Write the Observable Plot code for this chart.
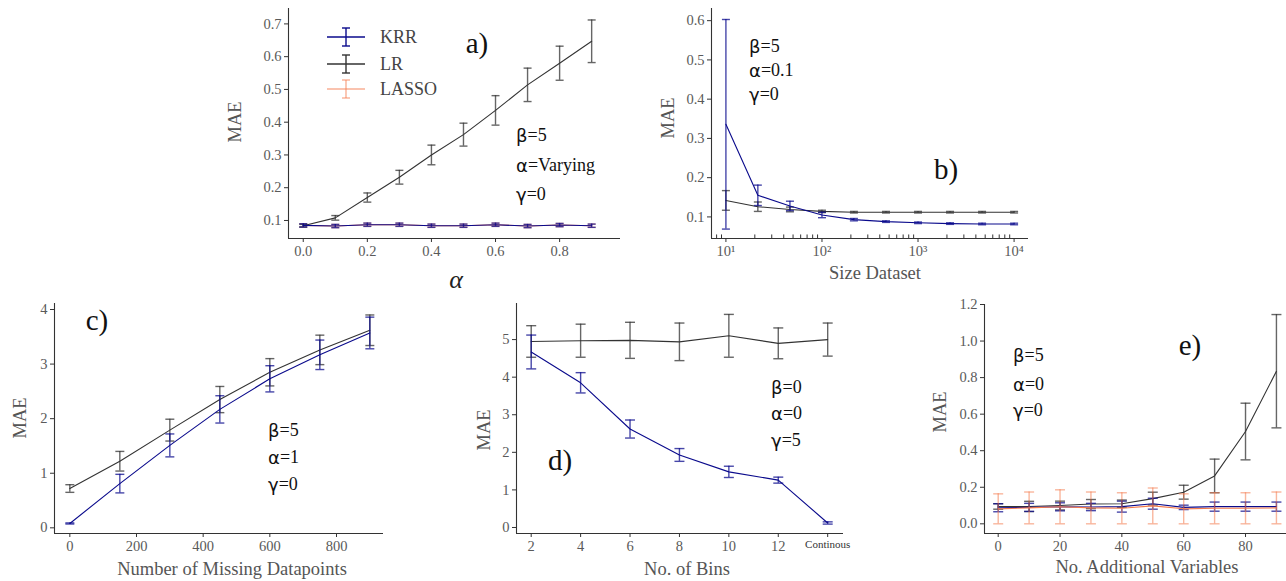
<!DOCTYPE html>
<html><head><meta charset="utf-8">
<script src="https://cdn.jsdelivr.net/npm/d3@7"></script>
<script src="https://cdn.jsdelivr.net/npm/@observablehq/plot@0.6"></script>
<style>
html,body{margin:0;padding:0;background:#fff;overflow:hidden;}
#fig{position:relative;width:1286px;height:581px;overflow:hidden;background:#fff;}
#fig svg{position:absolute;overflow:visible;}
</style></head><body><div id="fig"></div>
<script>
// ---------- Panel a: MAE vs alpha ----------
const aAlpha   = [0, 0.1, 0.2, 0.3, 0.4, 0.5, 0.6, 0.7, 0.8, 0.9];
const aKRR     = [0.085, 0.083, 0.087, 0.087, 0.084, 0.084, 0.087, 0.083, 0.086, 0.084];
const aKRRsd   = [0.005, 0.005, 0.005, 0.005, 0.005, 0.005, 0.005, 0.005, 0.005, 0.005];
const aLR      = [0.084, 0.108, 0.170, 0.232, 0.300, 0.362, 0.436, 0.514, 0.580, 0.647];
const aLRsd    = [0.004, 0.007, 0.014, 0.021, 0.030, 0.035, 0.045, 0.051, 0.052, 0.065];
const aLASSO   = [0.085, 0.083, 0.087, 0.087, 0.084, 0.084, 0.087, 0.083, 0.086, 0.084];
const aLASSOsd = [0.005, 0.005, 0.005, 0.005, 0.005, 0.005, 0.005, 0.005, 0.005, 0.005];
const aXTicks  = [0, 0.2, 0.4, 0.6, 0.8];
const aYTicks  = [0.1, 0.2, 0.3, 0.4, 0.5, 0.6, 0.7];

// ---------- Panel b: MAE vs dataset size ----------
const bSize    = [10, 21.5, 46.4, 100, 215, 464, 1000, 2154, 4642, 10000];
const bKRR     = [0.336, 0.155, 0.128, 0.105, 0.093, 0.088, 0.085, 0.083, 0.082, 0.082];
const bKRRsd   = [0.267, 0.026, 0.012, 0.007, 0.003, 0.002, 0.002, 0.002, 0.002, 0.002];
const bLR      = [0.142, 0.126, 0.119, 0.114, 0.112, 0.112, 0.112, 0.112, 0.112, 0.112];
const bLRsd    = [0.025, 0.012, 0.006, 0.003, 0.002, 0.002, 0.002, 0.002, 0.002, 0.002];
const bXTicks  = [10, 100, 1000, 10000];
const bXMinor  = [8, 9, 20, 30, 40, 50, 60, 70, 80, 90, 200, 300, 400, 500, 600, 700, 800, 900,
                  2000, 3000, 4000, 5000, 6000, 7000, 8000, 9000];
const bYTicks  = [0.1, 0.2, 0.3, 0.4, 0.5, 0.6];

// ---------- Panel c: MAE vs missing datapoints ----------
const cMissing = [0, 150, 300, 450, 600, 750, 900];
const cKRR     = [0.08, 0.81, 1.51, 2.17, 2.73, 3.17, 3.57];
const cKRRsd   = [0.01, 0.17, 0.21, 0.25, 0.24, 0.27, 0.29];
const cLR      = [0.72, 1.22, 1.79, 2.35, 2.85, 3.26, 3.62];
const cLRsd    = [0.07, 0.18, 0.20, 0.24, 0.25, 0.27, 0.28];
const cXTicks  = [0, 200, 400, 600, 800];
const cYTicks  = [0, 1, 2, 3, 4];

// ---------- Panel d: MAE vs number of bins ----------
const dBins    = [2, 4, 6, 8, 10, 12, 14];
const dKRR     = [4.67, 3.85, 2.62, 1.93, 1.48, 1.26, 0.12];
const dKRRsd   = [0.45, 0.27, 0.24, 0.17, 0.15, 0.08, 0.03];
const dLR      = [4.95, 4.97, 4.98, 4.94, 5.10, 4.90, 5.00];
const dLRsd    = [0.42, 0.44, 0.48, 0.50, 0.57, 0.41, 0.44];
const dXTicks  = [2, 4, 6, 8, 10, 12];
const dXCont   = [14];
const dContLabel = "Continous";
const dYTicks  = [0, 1, 2, 3, 4, 5];

// ---------- Panel e: MAE vs additional variables ----------
const eVars    = [0, 10, 20, 30, 40, 50, 60, 70, 80, 90];
const eKRR     = [0.088, 0.090, 0.093, 0.092, 0.094, 0.110, 0.090, 0.094, 0.094, 0.094];
const eKRRsd   = [0.022, 0.022, 0.022, 0.020, 0.030, 0.030, 0.012, 0.025, 0.025, 0.025];
const eLR      = [0.095, 0.095, 0.100, 0.108, 0.110, 0.138, 0.173, 0.262, 0.505, 0.835];
const eLRsd    = [0.015, 0.028, 0.024, 0.025, 0.020, 0.035, 0.038, 0.092, 0.155, 0.310];
const eLASSO   = [0.082, 0.087, 0.093, 0.087, 0.085, 0.098, 0.082, 0.085, 0.085, 0.087];
const eLASSOsd = [0.082, 0.087, 0.093, 0.087, 0.085, 0.098, 0.082, 0.085, 0.085, 0.087];
const eXTicks  = [0, 20, 40, 60, 80];
const eYTicks  = [0, 0.2, 0.4, 0.6, 0.8, 1.0, 1.2];

const seriesNames = ["KRR", "LR", "LASSO"];
const COL = {KRR: "#0a0a8c", LR: "#333333", LASSO: "#f47a4c"};

// ---------- helpers ----------
const SERIF = "'Liberation Serif', 'DejaVu Serif', serif";
const SANS = "'DejaVu Sans', sans-serif";
const fig = document.getElementById("fig");

const capSymbol = {draw(ctx, size) { const w = Math.sqrt(size / Math.PI); ctx.moveTo(-w, 0); ctx.lineTo(w, 0); }};

function rows(xs, mean, sd) {
  return xs.map((x, i) => ({x, y: mean[i], lo: mean[i] - sd[i], hi: mean[i] + sd[i]}));
}

function seriesMarks(data, name, capR) {
  const color = COL[name];
  const eo = name === "LASSO" ? 0.55 : 0.75;
  return [
    Plot.ruleX(data, {x: "x", y1: "lo", y2: "hi", stroke: color, strokeWidth: 1.4, strokeOpacity: eo}),
    Plot.dot(data, {x: "x", y: "lo", symbol: capSymbol, r: capR, stroke: color, fill: "none", strokeWidth: 1.4, strokeOpacity: eo}),
    Plot.dot(data, {x: "x", y: "hi", symbol: capSymbol, r: capR, stroke: color, fill: "none", strokeWidth: 1.4, strokeOpacity: eo}),
    Plot.line(data, {x: "x", y: "y", stroke: color, strokeWidth: 1.1})
  ];
}

function panel(cfg) {
  const marks = [
    ...(cfg.extra || []),
    Plot.ruleX([cfg.xDomain[0]], {stroke: "#333", strokeWidth: 1.1}),
    Plot.ruleY([cfg.yDomain[0]], {stroke: "#333", strokeWidth: 1.1}),
    ...cfg.xAxes,
    Plot.axisY({ticks: cfg.yTicks, tickFormat: cfg.yFormat, tickSize: 4, tickPadding: 3, stroke: "#333", fill: "#5a5a5a", label: null}),
    ...cfg.series
  ];
  const svg = Plot.plot({
    width: cfg.width, height: cfg.height,
    marginLeft: cfg.mL, marginRight: cfg.mR, marginTop: cfg.mT, marginBottom: cfg.mB,
    x: {type: cfg.xType || "linear", domain: cfg.xDomain, axis: null, label: null},
    y: {domain: cfg.yDomain, axis: null, label: null},
    style: {fontFamily: SERIF, fontSize: "14.5px", color: "#5a5a5a", background: "none", overflow: "visible"},
    marks
  });
  svg.style.left = cfg.left + "px";
  svg.style.top = cfg.top + "px";
  fig.appendChild(svg);
  const g = d3.select(svg).append("g");
  // text helper: absolute page coordinates
  const T = (px, py, parts, o = {}) => {
    const t = g.append("text")
      .attr("x", px - cfg.left).attr("y", py - cfg.top)
      .attr("text-anchor", o.anchor || "start")
      .attr("dominant-baseline", "central")
      .attr("font-size", o.size || 18)
      .attr("fill", o.fill || "#111")
      .attr("font-family", SERIF);
    if (o.rotate) t.attr("transform", `rotate(${o.rotate},${px - cfg.left},${py - cfg.top})`);
    if (o.italic) t.attr("font-style", "italic");
    for (const [s, fam] of parts) t.append("tspan").attr("font-family", fam || SERIF).text(s);
    return t;
  };
  return {svg, g, T};
}

function xAxis(ticks, fmt, extra = {}) {
  return Plot.axisX({ticks, tickFormat: fmt, tickSize: 4, tickPadding: 3, stroke: "#333", fill: "#5a5a5a", label: null, ...extra});
}
const f1 = d3.format(".1f");
const fInt = d => String(d);
const sup = {1: "\u00b9", 2: "\u00b2", 3: "\u00b3", 4: "\u2074"};

function params(T, x, ys, labels) {
  labels.forEach(([g, v], i) => T(x, ys[i], [[g, SANS], ["=" + v, SERIF]], {size: 18}));
}

// ---------- Panel a ----------
{
  const {g, T} = panel({
    left: 220, top: 0, width: 410, height: 290, mL: 68, mR: 10, mT: 8, mB: 52,
    xDomain: [-0.046, 0.99], yDomain: [0.045, 0.747],
    xAxes: [xAxis(aXTicks, f1)], yTicks: aYTicks, yFormat: f1,
    series: [
      ...seriesMarks(rows(aAlpha, aLASSO, aLASSOsd), "LASSO", 4),
      ...seriesMarks(rows(aAlpha, aLR, aLRsd), "LR", 4),
      ...seriesMarks(rows(aAlpha, aKRR, aKRRsd), "KRR", 4)
    ]
  });
  T(235, 122, [["MAE"]], {rotate: -90, anchor: "middle", size: 18.5, fill: "#555"});
  T(456, 279, [["\u03b1"]], {anchor: "middle", size: 26, italic: true, fill: "#222"});
  T(477, 43, [["a)"]], {anchor: "middle", size: 29});
  params(T, 516, [135, 165, 194], [["\u03b2", "5"], ["\u03b1", "Varying"], ["\u03b3", "0"]]);
  // legend
  const ly = [37, 64, 89];
  seriesNames.forEach((n, i) => {
    const y = ly[i], op = n === "LASSO" ? 0.6 : 1;
    g.append("line").attr("x1", 327 - 220).attr("x2", 365 - 220).attr("y1", y).attr("y2", y)
      .attr("stroke", COL[n]).attr("stroke-width", 1.3).attr("stroke-opacity", op);
    g.append("line").attr("x1", 346 - 220).attr("x2", 346 - 220).attr("y1", y - 9).attr("y2", y + 9)
      .attr("stroke", COL[n]).attr("stroke-width", 1.4).attr("stroke-opacity", op);
    [y - 9, y + 9].forEach(cy => g.append("line").attr("x1", 342 - 220).attr("x2", 350 - 220).attr("y1", cy).attr("y2", cy)
      .attr("stroke", COL[n]).attr("stroke-width", 1.4).attr("stroke-opacity", op));
    T(380, y, [[n]], {size: 18, fill: "#444"});
  });
}

// ---------- Panel b ----------
{
  const yD = [0.045, 0.631];
  const {T} = panel({
    left: 650, top: 0, width: 390, height: 290, mL: 61, mR: 12, mT: 8, mB: 52,
    xType: "log", xDomain: [Math.pow(10, 0.85), Math.pow(10, 4.15)], yDomain: yD,
    extra: [Plot.ruleX(bXMinor, {x: d => d, y1: yD[0], y2: yD[0] + 0.009, stroke: "#333", strokeWidth: 1})],
    xAxes: [xAxis(bXTicks, d => "10" + sup[Math.round(Math.log10(d))])], yTicks: bYTicks, yFormat: f1,
    series: [
      ...seriesMarks(rows(bSize, bLR, bLRsd), "LR", 4),
      ...seriesMarks(rows(bSize, bKRR, bKRRsd), "KRR", 4)
    ]
  });
  T(668, 118, [["MAE"]], {rotate: -90, anchor: "middle", size: 18.5, fill: "#555"});
  T(875, 273, [["Size Dataset"]], {anchor: "middle", size: 18.5, fill: "#555"});
  T(946, 169, [["b)"]], {anchor: "middle", size: 29});
  params(T, 749, [46, 70, 94], [["\u03b2", "5"], ["\u03b1", "0.1"], ["\u03b3", "0"]]);
}

// ---------- Panel c ----------
{
  const {T} = panel({
    left: 0, top: 290, width: 400, height: 291, mL: 54, mR: 17, mT: 13, mB: 48,
    xDomain: [-46, 941], yDomain: [-0.104, 4.11],
    xAxes: [xAxis(cXTicks, fInt)], yTicks: cYTicks, yFormat: fInt,
    series: [
      ...seriesMarks(rows(cMissing, cLR, cLRsd), "LR", 4.5),
      ...seriesMarks(rows(cMissing, cKRR, cKRRsd), "KRR", 4.5)
    ]
  });
  T(20, 418, [["MAE"]], {rotate: -90, anchor: "middle", size: 18.5, fill: "#555"});
  T(232, 569, [["Number of Missing Datapoints"]], {anchor: "middle", size: 18.5, fill: "#555"});
  T(97, 320, [["c)"]], {anchor: "middle", size: 29});
  params(T, 268, [430, 457, 484], [["\u03b2", "5"], ["\u03b1", "1"], ["\u03b3", "0"]]);
}

// ---------- Panel d ----------
{
  const {T} = panel({
    left: 430, top: 290, width: 430, height: 291, mL: 86, mR: 17, mT: 13, mB: 48,
    xDomain: [1.405, 14.64], yDomain: [-0.16, 5.96],
    xAxes: [xAxis(dXTicks, fInt), xAxis(dXCont, () => dContLabel, {fontSize: 11, fill: "#333"})],
    yTicks: dYTicks, yFormat: fInt,
    series: [
      ...seriesMarks(rows(dBins, dLR, dLRsd), "LR", 5),
      ...seriesMarks(rows(dBins, dKRR, dKRRsd), "KRR", 5)
    ]
  });
  T(484, 430, [["MAE"]], {rotate: -90, anchor: "middle", size: 18.5, fill: "#555"});
  T(687, 569, [["No. of Bins"]], {anchor: "middle", size: 18.5, fill: "#555"});
  T(560, 460, [["d)"]], {anchor: "middle", size: 29});
  params(T, 771, [387, 413, 440], [["\u03b2", "0"], ["\u03b1", "0"], ["\u03b3", "5"]]);
}

// ---------- Panel e ----------
{
  const {T} = panel({
    left: 880, top: 290, width: 442, height: 291, mL: 104, mR: 0, mT: 14, mB: 48,
    xDomain: [-4.43, 104.9], yDomain: [-0.053, 1.2],
    xAxes: [xAxis(eXTicks, fInt)], yTicks: eYTicks, yFormat: f1,
    series: [
      ...seriesMarks(rows(eVars, eLR, eLRsd), "LR", 5),
      ...seriesMarks(rows(eVars, eKRR, eKRRsd), "KRR", 5),
      ...seriesMarks(rows(eVars, eLASSO, eLASSOsd), "LASSO", 5)
    ]
  });
  T(940, 412, [["MAE"]], {rotate: -90, anchor: "middle", size: 18.5, fill: "#555"});
  T(1147, 567, [["No. Additional Variables"]], {anchor: "middle", size: 18.5, fill: "#555"});
  T(1190, 345, [["e)"]], {anchor: "middle", size: 29});
  params(T, 1013, [355, 384, 410], [["\u03b2", "5"], ["\u03b1", "0"], ["\u03b3", "0"]]);
}
</script></body></html>
